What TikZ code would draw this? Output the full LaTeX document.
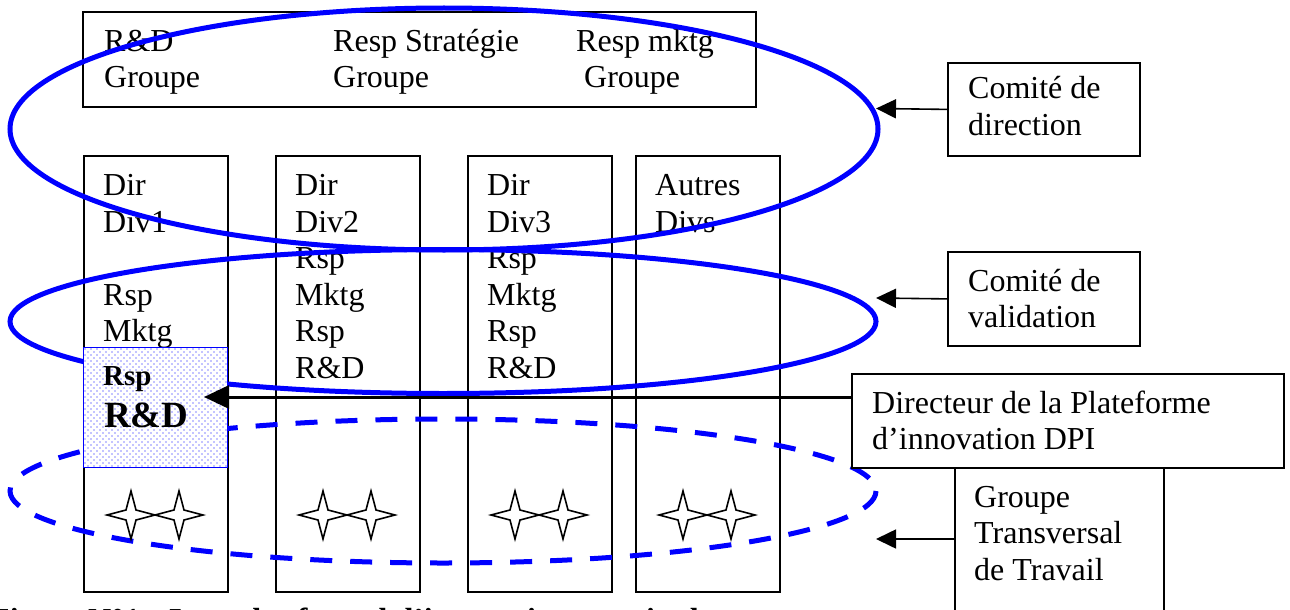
\documentclass[tikz,border=0pt]{standalone}
\usepackage{fontspec}
\setmainfont{Liberation Serif}
\usetikzlibrary{arrows.meta}
\begin{document}
\begin{tikzpicture}[x=1pt,y=-1pt,
  box/.style={draw=black,line width=1.8pt,inner sep=0pt,anchor=north west},
  wbox/.style={box,fill=white},
  txt/.style={font=\fontsize{32}{36.5}\selectfont,inner sep=0pt,anchor=base west},
  btxtS/.style={font=\fontsize{29}{33}\selectfont\bfseries,inner sep=0pt,anchor=base west},
  btxtL/.style={font=\fontsize{37}{40}\selectfont\bfseries,inner sep=0pt,anchor=base west},
  capt/.style={font=\fontsize{32}{36.5}\selectfont\bfseries,inner sep=0pt,anchor=base west},
  ell/.style={draw=blue,line width=5pt},
  dell/.style={draw=blue,line width=5pt,dash pattern=on 22pt off 18pt},
  conn/.style={draw=black,line width=1.6pt,-{Triangle[length=20pt,width=19pt]}},
  bigconn/.style={draw=black,line width=3pt,-{Triangle[length=25pt,width=23pt]}},
  starsty/.style={draw=black,line width=1.6pt,fill=white,line join=miter},
  dotbox/.style={draw=blue,line width=1pt,inner sep=0pt,anchor=north west}
]
\useasboundingbox (0,0) rectangle (1290,610);
\clip (0,0) rectangle (1290,610);

% top box
\node[box,minimum width=673pt,minimum height=95pt] (topbox) at (82,11) {};
\node[txt] (t1) at (104,52) {R\&D};
\node[txt] (t2) at (104,88) {Groupe};
\node[txt] (t3) at (333,52) {Resp Stratégie};
\node[txt] (t4) at (333,88) {Groupe};
\node[txt] (t5) at (576,52) {Resp mktg};
\node[txt] (t6) at (584,88) {Groupe};

% columns
\node[box,minimum width=144pt,minimum height=436pt] (col1) at (83,155) {};
\node[box,minimum width=144pt,minimum height=436pt] (col2) at (275,155) {};
\node[box,minimum width=144pt,minimum height=436pt] (col3) at (467,155) {};
\node[box,minimum width=144pt,minimum height=436pt] (col4) at (635,155) {};

\node[txt] (c1a) at (103,195) {Dir};
\node[txt] (c1b) at (103,232) {Div1};
\node[txt] (c1c) at (103,305) {Rsp};
\node[txt] (c1d) at (103,341) {Mktg};

\node[txt] (c2a) at (295,195) {Dir};
\node[txt] (c2b) at (295,232) {Div2};
\node[txt] (c2c) at (295,268) {Rsp};
\node[txt] (c2d) at (295,305) {Mktg};
\node[txt] (c2e) at (295,341) {Rsp};
\node[txt] (c2f) at (295,378) {R\&D};

\node[txt] (c3a) at (487,195) {Dir};
\node[txt] (c3b) at (487,232) {Div3};
\node[txt] (c3c) at (487,268) {Rsp};
\node[txt] (c3d) at (487,305) {Mktg};
\node[txt] (c3e) at (487,341) {Rsp};
\node[txt] (c3f) at (487,378) {R\&D};

\node[txt] (c4a) at (655,195) {Autres};
\node[txt] (c4b) at (655,232) {Divs};

% solid ellipses
\draw[ell] (444,129) ellipse [x radius=434, y radius=121];
\draw[ell] (443,321.5) ellipse [x radius=433, y radius=72];

% dashed ellipse
\draw[dell] (443,491) ellipse [x radius=433, y radius=72];

% dotted box
\node[dotbox,fill=white,minimum width=144pt,minimum height=120pt] (rd) at (83,347) {};
\begin{scope}
  \clip (83,347) rectangle (227,467);
  \foreach \i in {0,...,24} {
    \foreach \j in {0,...,20} {
      \fill[blue] (85+6*\i,349+6*\j) circle (0.7pt);
      \fill[blue] (88+6*\i,352+6*\j) circle (0.7pt);
    }
  }
\end{scope}
\node[dotbox,minimum width=144pt,minimum height=120pt] (rdb) at (83,347) {};
\node[btxtS] (rsp) at (103,385) {Rsp};
\node[btxtL] (rdt) at (104,427) {R\&D};

% stars
\foreach \cx in {131,179,323,371,515,563,683,731} {
  \draw[starsty,shift={(\cx,515)}] (0,-24) -- (5,-5) -- (24,0) -- (5,5) -- (0,24) -- (-5,5) -- (-24,0) -- (-5,-5) -- cycle;
}

% right boxes
\node[wbox,minimum width=192pt,minimum height=93pt] (dir) at (947,62) {};
\node[txt] (dirA) at (968,99) {Comité de};
\node[txt] (dirB) at (968,135) {direction};

\node[wbox,minimum width=192pt,minimum height=94pt] (val) at (947,251) {};
\node[txt] (valA) at (968,291) {Comité de};
\node[txt] (valB) at (968,327) {validation};

\node[wbox,minimum width=209pt,minimum height=170pt] (gt) at (954,467) {};
\node[txt] (gtA) at (974,507) {Groupe};
\node[txt] (gtB) at (974,543) {Transversal};
\node[txt] (gtC) at (974,580) {de Travail};

\node[wbox,minimum width=432pt,minimum height=94pt] (dpi) at (851,373) {};
\node[txt] (dpiA) at (872,413) {Directeur de la Plateforme};
\node[txt] (dpiB) at (872,449) {d’innovation DPI};

% connectors
\coordinate (tipdir) at (876,108.5);
\coordinate (tipval) at (876,298);
\coordinate (tipgt) at (876,539);
\coordinate (srcgt) at (954,539);
\coordinate (srcdpi) at (851,397);
\coordinate (tiprd) at (204,397);
\draw[conn] (dir.west) -- (tipdir);
\draw[conn] (val.west) -- (tipval);
\draw[conn] (srcgt) -- (tipgt);
\draw[bigconn] (srcdpi) -- (tiprd);

% caption (cut off at the bottom)
\node[capt] (cap) at (-10,630) {Figure N°1 : Le cadre formel d’innovation au sein du groupe};
\end{tikzpicture}
\end{document}
